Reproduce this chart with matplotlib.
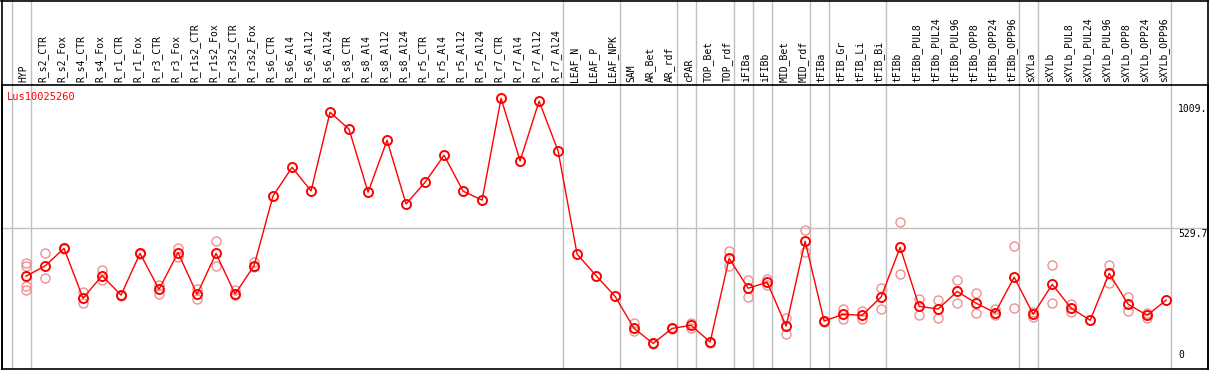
import matplotlib
matplotlib.use("Agg")
import matplotlib.pyplot as plt
import matplotlib.transforms as mtransforms
from matplotlib.lines import Line2D

# column names, left to right
samples = ["HYP", "R_s2_CTR", "R_s2_Fox", "R_s4_CTR", "R_s4_Fox", "R_r1_CTR", "R_r1_Fox",
           "R_r3_CTR", "R_r3_Fox", "R_r1s2_CTR", "R_r1s2_Fox", "R_r3s2_CTR", "R_r3s2_Fox",
           "R_s6_CTR", "R_s6_Al4", "R_s6_Al12", "R_s6_Al24", "R_s8_CTR", "R_s8_Al4",
           "R_s8_Al12", "R_s8_Al24", "R_r5_CTR", "R_r5_Al4", "R_r5_Al12", "R_r5_Al24",
           "R_r7_CTR", "R_r7_Al4", "R_r7_Al12", "R_r7_Al24", "LEAF_N", "LEAF_P", "LEAF_NPK",
           "SAM", "AR_Bet", "AR_rdf", "cPAR", "TOP_Bet", "TOP_rdf", "iFIBa", "iFIBb",
           "MID_Bet", "MID_rdf", "tFIBa", "tFIB_Gr", "tFIB_Li", "tFIB_Bi", "tFIBb",
           "tFIBb_PUL8", "tFIBb_PUL24", "tFIBb_PUL96", "tFIBb_OPP8", "tFIBb_OPP24",
           "tFIBb_OPP96", "sXYLa", "sXYLb", "sXYLb_PUL8", "sXYLb_PUL24", "sXYLb_PUL96",
           "sXYLb_OPP8", "sXYLb_OPP24", "sXYLb_OPP96"]

# mean expression per column
means = [346, 385, 452, 262, 348, 274, 433, 296, 436, 277, 433, 278, 386,
         652, 761, 671, 971, 906, 666, 864, 621, 704, 807, 670, 636,
         1024, 785, 1013, 823, 430, 348, 269,
         147, 90, 147, 159, 95, 414, 300, 323, 156, 479, 175, 201, 197, 267,
         456, 231, 221, 288, 243, 207, 342, 201, 315, 224, 178, 357, 239, 197, 255]

# replicate values per column
replicates = [[395, 386, 310, 293], [433, 338], [455, 449], [285, 243], [370, 332],
              [276, 272], [435, 431], [312, 277], [452, 418], [296, 258], [480, 384],
              [293, 274], [401, 382],
              [], [], [], [], [], [], [], [], [], [], [], [], [], [], [], [], [], [], [],
              [166, 138], [92, 88], [149, 145], [169, 147], [97, 93], [442, 384],
              [332, 268], [334, 312], [186, 127], [521, 437], [177, 173], [222, 183],
              [213, 182], [300, 221], [554, 353], [258, 199], [254, 186], [330, 243],
              [282, 205], [221, 198], [460, 224], [210, 192], [388, 243], [239, 210],
              [], [388, 321], [267, 212], [207, 188], []]

# last column of each group (separator drawn after it)
group_ends = [-1, 0, 28, 31, 34, 35, 37, 38, 39, 41, 42, 45, 52, 53, 60]
ref_ticks = [0, 529.7, 1009]
ref_labels = ["0", "529.7", "1009."]
gene = "Lus10025260"

W, H = 1209, 370
fig = plt.figure(figsize=(W / 100, H / 100), dpi=100)
ax = fig.add_axes([1.5 / W, 1 / H, 1206.5 / W, 284 / H])

x = list(range(len(samples)))
ax.set_xlim(-1.29, 62.2)
ax.set_ylim(-7.6, 1074.6)

grey = "#c0c0c0"
for g in group_ends:
    ax.axvline(g + 0.25, ymin=0, ymax=85 / 284 + 1, color=grey, lw=1.0, clip_on=False, zorder=1)
ax.axhline(ref_ticks[1], color=grey, lw=1.0, zorder=1)

rx, ry = [], []
for i, reps in enumerate(replicates):
    for v in reps:
        rx.append(i)
        ry.append(v)
ax.plot(rx, ry, ls="none", marker="o", ms=6.5, mfc="none", mec="#f09090", mew=1.0, zorder=2)
ax.plot(x, means, color="red", lw=1.0, marker="o", ms=6.5, mfc="none", mec="red", mew=1.4, zorder=3)

trans = mtransforms.blended_transform_factory(ax.transData, ax.transAxes)
for i, name in enumerate(samples):
    ax.text(i - 0.12, 1 + 3 / 284, name, rotation=90, ha="center", va="bottom",
            family="DejaVu Sans Mono", fontsize=7, transform=trans, clip_on=False)

for v, lab in zip(ref_ticks, ref_labels):
    va = "bottom" if v == 0 else "top"
    off = 5 if v == 0 else -1
    ax.annotate(lab, xy=(60.63, v), xytext=(0, off), textcoords="offset points",
                ha="left", va=va, family="DejaVu Sans Mono", fontsize=7)

ax.text(5 / 1206.5, 1 - 12 / 284, gene, color="red", family="DejaVu Sans Mono",
        fontsize=7.5, ha="left", va="center", transform=ax.transAxes)

ax.set_xticks([])
ax.set_yticks([])
for s in ax.spines.values():
    s.set_linewidth(1.2)

# outer frame around the label area
fig.add_artist(Line2D([0.5 / W, 1208 / W], [1 - 0.5 / H, 1 - 0.5 / H], color="black", lw=1.2))
fig.add_artist(Line2D([1.5 / W, 1.5 / W], [1 / H, 1], color="black", lw=1.2))
fig.add_artist(Line2D([1208 / W, 1208 / W], [1 / H, 1], color="black", lw=1.2))

fig.savefig("out.png", dpi=100)
